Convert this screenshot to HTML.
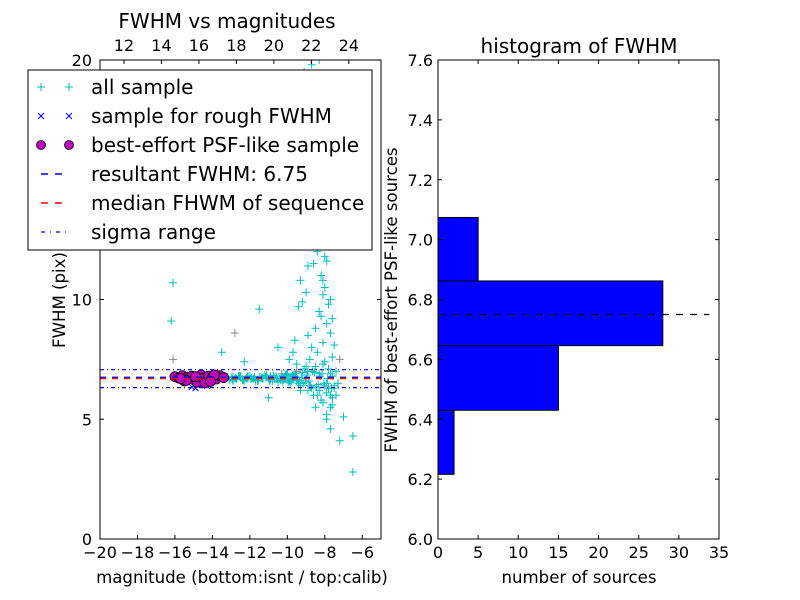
<!DOCTYPE html>
<html><head><meta charset="utf-8"><style>
body{margin:0;background:#fff;}
svg{display:block;font-family:"DejaVu Sans","Liberation Sans",sans-serif;}
</style></head><body>
<svg id="chart" width="800" height="600" viewBox="0 0 800 600" xmlns="http://www.w3.org/2000/svg">
<rect width="800" height="600" fill="#fff"/>
<g id="left"></g>
<g id="right"></g>
</svg>
<script>
// ---- scatter data ----
const allMag = [-16.1,-16.2,-13.5,-12.3,-11.5,-10.5,-11,-6.5,-6.5,-7,-7.2,
 -13,-12.8,-12.6,-12.4,-12.2,-12,-11.8,-11.6,-11.4,-11.2,-11,-10.8,-10.6,-10.4,-10.2,-10,-9.8,-9.6,-9.4,-9.2,-9,
 -12.9,-12.5,-12.1,-11.7,-11.3,-10.9,-10.5,-10.1,-9.7,-9.3,-8.9,-8.7,-8.5,-8.3,-8.1,-7.9,-7.7,-7.5,
 -9.1,-8.9,-8.8,-8.6,-8.4,-8.2,-8,-7.8,-7.6,-9.5,-9.3,-8.7,-8.5,-8.1,-7.9,-7.7,
 -8.3,-8.1,-7.9,-7.7,-7.5,-8.2,-8,-7.8,-7.6,-8.4,-8.6,-7.4,-7.3,-7.9,-7.7,
 -9.4,-9.2,-9,-8.8,-8.6,-8.4,-8.2,-8,-7.8,-9.6,-9.9,-9.7,-9.3,-8.9,-8.5,-8.1,-7.9,-8.3,-8.0,-7.8,
 -8.2,-8.0,-7.9,-8.4,-8.1,-7.8,-8.7,-9.1,-8.3,-8.6,-8.0,-7.7,-8.5,-8.2,-8.9,-9.0,-8.4,-8.1,-7.6,-7.9,
 -8.3,-8.0,-7.8,-7.6,-7.5,-7.7,-7.4,-8.1,-7.9,-7.6,
 -13.3,-13.1,-12.9,-12.7,-12.5,-12.3,-12.1,-11.9,-11.7,-11.5,-11.3,-11.1,-10.9,-10.7,-10.5,-10.3,-10.1,-9.9,-9.7,-9.5,
 -13.2,-12.95,-12.75,-12.55,-12.35,-12.15,-11.95,-11.75,-11.55,-11.35,-11.15,-10.95,-10.75,-10.55,-10.35,-10.15,-9.95,-9.75,-9.55,-9.35,
 -9.15,-8.95,-8.75,-8.55,-8.35,-8.15,-9.25,-9.05,-8.85,-8.65,-8.45,-8.25,-8.05,-7.85,-7.65,-9.45,-9.65,-9.85,-10.05,-10.25];
const allFwhm = [10.7,9.1,7.8,7.4,9.6,8.0,5.9,4.3,2.8,5.1,4.1,
 6.75,6.7,6.8,6.65,6.7,6.8,6.7,6.6,6.75,6.85,6.7,6.6,6.8,6.7,6.65,6.9,6.6,6.8,6.5,6.95,6.7,
 6.6,6.8,6.7,6.6,6.75,6.8,6.55,6.85,6.7,6.4,7.0,6.3,7.2,6.2,7.3,6.1,6.0,6.4,
 7.1,6.2,7.5,6.0,7.8,5.8,7.4,6.3,5.6,7.3,6.2,8.0,5.5,8.2,5.2,6.9,
 9.5,10.2,9.0,8.6,8.1,11.0,10.5,9.8,7.6,12.0,11.5,7.0,6.5,5.0,4.6,
 9.7,9.9,10.3,12.7,13.1,13.6,14.3,15.0,12.2,8.3,7.5,7.8,10.8,11.4,12.4,13.0,13.9,14.8,15.6,16.5,
 17.0,17.5,18.3,18.8,19.2,16.1,19.8,19.5,20.0,14.0,11.8,10.0,8.8,9.3,8.5,7.2,6.0,5.7,5.9,6.5,
 6.9,6.4,7.1,6.8,6.3,5.5,6.0,10.8,11.6,9.2,
 6.7,6.62,6.78,6.68,6.74,6.6,6.8,6.72,6.64,6.76,6.7,6.82,6.66,6.74,6.58,6.8,6.7,6.62,6.85,6.6,
 6.76,6.66,6.72,6.8,6.64,6.74,6.68,6.78,6.62,6.7,6.76,6.6,6.82,6.7,6.64,6.76,6.55,6.8,6.9,6.62,
 6.5,6.85,6.4,6.95,6.45,6.9,6.75,6.55,6.6,7.0,6.35,6.8,6.5,6.7,6.3,6.65,6.78,6.52,6.88,6.58];
const greyMag = [-16.1,-12.8,-11.2,-7.2,-9.5,-8.8,-10.3];
const greyFwhm = [7.5,8.6,12.5,7.5,7.0,6.4,6.9];
const psfMag = [-16,-15.8,-15.6,-15.5,-15.3,-15.1,-15,-14.8,-14.6,-14.5,-14.3,-14.2,-14,-13.8,-13.6,-13.4,-15.4,-14.9,-14.4,-13.9,-15.7,-14.1];
const psfFwhm = [6.78,6.72,6.82,6.6,6.75,6.8,6.65,6.55,6.85,6.7,6.6,6.8,6.75,6.68,6.82,6.74,6.62,6.78,6.52,6.85,6.7,6.58];
const roughMag = [-15.1,-14.9,-14.4,-14.3];
const roughFwhm = [6.35,6.3,6.45,6.4];
const resultFwhm = 6.75, medianFwhm = 6.70, sigmaLo = 6.32, sigmaHi = 7.07;
const xTicksBottom = [-20,-18,-16,-14,-12,-10,-8,-6];
const xTicksTop = [12,14,16,18,20,22,24];
const yTicksLeft = [0,5,10,20];
// ---- histogram data ----
const binEdges = [6.216,6.430,6.646,6.862,7.074];
const binCounts = [2,15,28,5];
const histXTicks = [0,5,10,15,20,25,30,35];
const histYTicks = [6.0,6.2,6.4,6.6,6.8,7.0,7.2,7.4,7.6];
const histLineMax = 33.8;

const NS="http://www.w3.org/2000/svg";
function mk(parent,tag,attrs){const e=document.createElementNS(NS,tag);for(const k in attrs)e.setAttribute(k,attrs[k]);parent.appendChild(e);return e;}
function txt(parent,x,y,s,size,anchor,extra){const t=mk(parent,'text',Object.assign({x:x,y:y,'font-size':size,'text-anchor':anchor||'middle',fill:'#000'},extra||{}));t.textContent=s;return t;}

const L={x0:100,x1:381,y0:60,y1:539};
const xs=v=>L.x0+(v+20)*(L.x1-L.x0)/15;
const xt=v=>xs(v-30.72);
const ys=v=>L.y1-v*(L.y1-L.y0)/20;
const lg=document.getElementById('left');
const clipDefs=mk(lg,'defs',{});
const cp=mk(clipDefs,'clipPath',{id:'lc'});mk(cp,'rect',{x:L.x0,y:L.y0,width:L.x1-L.x0,height:L.y1-L.y0});
const plot=mk(lg,'g',{'clip-path':'url(#lc)'});


function plus(g,x,y,c){mk(g,'path',{d:`M${x-4},${y}h8M${x},${y-4}v8`,stroke:c,'stroke-width':1,fill:'none'});}
for(let i=0;i<greyMag.length;i++)plus(plot,xs(greyMag[i]),ys(greyFwhm[i]),'#888');
for(let i=0;i<allMag.length;i++)plus(plot,xs(allMag[i]),ys(allFwhm[i]),'#00bfbf');
for(let i=0;i<roughMag.length;i++){const x=xs(roughMag[i]),y=ys(roughFwhm[i]);mk(plot,'path',{d:`M${x-3},${y-3}l6,6M${x-3},${y+3}l6,-6`,stroke:'#0000ff','stroke-width':1});}
for(let i=0;i<psfMag.length;i++)mk(plot,'circle',{cx:xs(psfMag[i]),cy:ys(psfFwhm[i]),r:5,fill:'#bf00bf',stroke:'#000','stroke-width':0.8});
mk(plot,'line',{x1:L.x0,x2:L.x1,y1:ys(resultFwhm),y2:ys(resultFwhm),stroke:'#0000ff','stroke-width':1.5,'stroke-dasharray':'6,6'});
mk(plot,'line',{x1:L.x0,x2:L.x1,y1:ys(medianFwhm),y2:ys(medianFwhm),stroke:'#ff0000','stroke-width':1.5,'stroke-dasharray':'6,6'});
[sigmaLo,sigmaHi].forEach(v=>mk(plot,'line',{x1:L.x0,x2:L.x1,y1:ys(v),y2:ys(v),stroke:'#0000ff','stroke-width':1.2,'stroke-dasharray':'4,3,1,3'}));
mk(lg,'rect',{x:L.x0,y:L.y0,width:L.x1-L.x0,height:L.y1-L.y0,fill:'none',stroke:'#000','stroke-width':1});
xTicksBottom.forEach(v=>{const x=xs(v);mk(lg,'path',{d:`M${x},${L.y1}v-4`,stroke:'#000'});txt(lg,x,558,(v<0?'\u2212':'')+Math.abs(v),16);});
xTicksTop.forEach(v=>{const x=xt(v);mk(lg,'path',{d:`M${x},${L.y0}v4`,stroke:'#000'});txt(lg,x,51,String(v),16);});
yTicksLeft.forEach(v=>{const y=ys(v);mk(lg,'path',{d:`M${L.x0},${y}h4M${L.x1},${y}h-4`,stroke:'#000'});txt(lg,92,y+6,String(v),16,'end');});
txt(lg,227,28,'FWHM vs magnitudes',20);
txt(lg,242,583,'magnitude (bottom:isnt / top:calib)',16.6);
txt(lg,0,0,'FWHM (pix)',16.6,'middle',{transform:'translate(65,300) rotate(-90)'});
const leg=mk(lg,'g',{});


mk(leg,'rect',{x:28,y:70,width:344,height:180,fill:'#fff',stroke:'#000','stroke-width':1});
const labels=['all sample','sample for rough FWHM','best-effort PSF-like sample','resultant FWHM: 6.75','median FHWM of sequence','sigma range'];
labels.forEach((s,i)=>{const y=87+i*29;const e=mk(leg,'g',{});


if(i==0){plus(e,41,y,'#00bfbf');plus(e,69,y,'#00bfbf');}
if(i==1){[41,69].forEach(x=>mk(e,'path',{d:`M${x-3},${y-3}l6,6M${x-3},${y+3}l6,-6`,stroke:'#0000ff'}));}
if(i==2){[41,69].forEach(x=>mk(e,'circle',{cx:x,cy:y,r:4.5,fill:'#bf00bf',stroke:'#000','stroke-width':0.8}));}
if(i==3||i==4)mk(e,'line',{x1:41,x2:69,y1:y,y2:y,stroke:i==3?'#0000ff':'#ff0000','stroke-width':1.5,'stroke-dasharray':'7,7'});
if(i==5)mk(e,'line',{x1:41,x2:69,y1:y,y2:y,stroke:'#0000ff','stroke-width':1.2,'stroke-dasharray':'4,5,1,5'});
txt(e,91,y+7,s,20,'start');});

const R={x0:438,x1:719,y0:60,y1:539};
const hx=v=>R.x0+v*(R.x1-R.x0)/35;
const hy=v=>R.y1-(v-6)*(R.y1-R.y0)/1.6;
const rg=document.getElementById('right');
for(let i=0;i<binCounts.length;i++){const b=mk(rg,'rect',{x:hx(0),y:hy(binEdges[i+1]),width:hx(binCounts[i])-hx(0),height:hy(binEdges[i])-hy(binEdges[i+1]),fill:'#0000ff',stroke:'#000','stroke-width':1});

}
mk(rg,'line',{x1:hx(0),x2:hx(histLineMax),y1:hy(resultFwhm),y2:hy(resultFwhm),stroke:'#000','stroke-width':1.2,'stroke-dasharray':'7,7'});
mk(rg,'rect',{x:R.x0,y:R.y0,width:R.x1-R.x0,height:R.y1-R.y0,fill:'none',stroke:'#000','stroke-width':1});
histXTicks.forEach(v=>{const x=hx(v);mk(rg,'path',{d:`M${x},${R.y1}v-4M${x},${R.y0}v4`,stroke:'#000'});txt(rg,x,558,String(v),16);});
histYTicks.forEach(v=>{const y=hy(v);mk(rg,'path',{d:`M${R.x0},${y}h4M${R.x1},${y}h-4`,stroke:'#000'});txt(rg,433,y+6,v.toFixed(1),16,'end');});
txt(rg,579,53,'histogram of FWHM',20);
txt(rg,579,583,'number of sources',16.6);
txt(rg,0,0,'FWHM of best-effort PSF-like sources',16.6,'middle',{transform:'translate(397,300) rotate(-90)'});
</script>
</body></html>
